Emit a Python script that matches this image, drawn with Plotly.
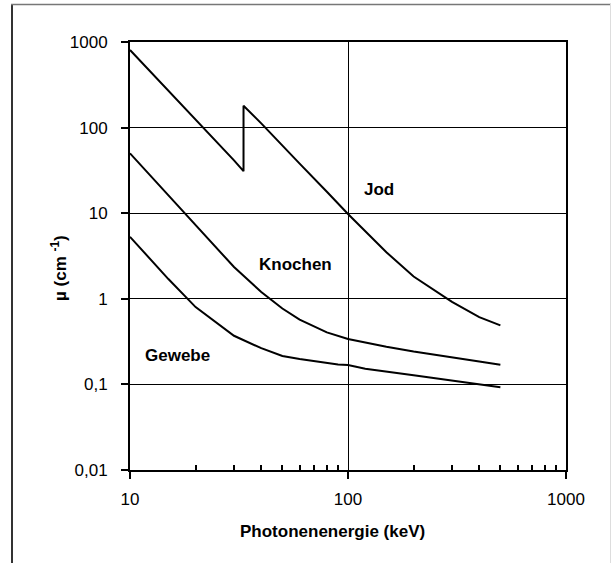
import plotly.graph_objects as go

# ---- data ----
E_jod = [10, 15, 20, 30, 33.17, 33.17, 40, 50, 60, 80, 100, 150, 200, 300, 400, 500]
mu_jod = [805, 270, 127, 41.5, 31, 180, 112, 61, 38, 17.8, 9.8, 3.5, 1.82, 0.92, 0.61, 0.49]

E_knochen = [10, 15, 20, 30, 40, 50, 60, 80, 100, 150, 200, 300, 400, 500]
mu_knochen = [50, 16.2, 7.2, 2.35, 1.2, 0.77, 0.57, 0.405, 0.34, 0.275, 0.242, 0.205, 0.185, 0.17]

E_gewebe = [10, 15, 20, 30, 40, 50, 60, 80, 90, 100, 120, 200, 300, 400, 500]
mu_gewebe = [5.3, 1.7, 0.8, 0.37, 0.265, 0.215, 0.198, 0.177, 0.171, 0.168, 0.152, 0.128, 0.111, 0.101, 0.0925]

y_tickvals = [0.01, 0.1, 1, 10, 100, 1000]
y_ticktext = ["0,01", "0,1", "1", "10", "100", "1000"]
x_tickvals = [10, 100, 1000]
x_ticktext = ["10", "100", "1000"]
x_minor = [20, 30, 40, 50, 60, 70, 80, 90, 200, 300, 400, 500, 600, 700, 800, 900]

series = [("Jod", E_jod, mu_jod), ("Knochen", E_knochen, mu_knochen), ("Gewebe", E_gewebe, mu_gewebe)]

FONT = "Liberation Sans, Arial, Helvetica, sans-serif"

fig = go.Figure()
for name, xs, ys in series:
    fig.add_trace(go.Scatter(x=xs, y=ys, mode="lines", name=name,
                             line=dict(color="black", width=2), showlegend=False))

L, T = 130, 42
W, H = 612, 563
pw, ph = 436, 428
R = W - L - pw
B = H - T - ph

def px(xp):  # page x -> paper
    return (xp - L) / pw

def py(yp):  # page y -> paper
    return (T + ph - yp) / ph

fig.update_layout(
    width=W, height=H,
    margin=dict(l=L, r=R, t=T, b=B, pad=0),
    paper_bgcolor="white", plot_bgcolor="white",
    font=dict(family=FONT, size=17, color="black"),
    xaxis=dict(type="log", range=[1, 3], tickvals=x_tickvals, ticktext=x_ticktext,
               ticks="outside", ticklen=7, tickwidth=2, tickcolor="black",
               showline=True, linewidth=2, linecolor="black", mirror=True,
               showgrid=True, gridcolor="black", gridwidth=1, zeroline=False,
               ticklabelstandoff=6,
               minor=dict(tickvals=x_minor, ticks="inside", ticklen=5, tickwidth=1.5,
                          tickcolor="black", showgrid=False)),
    yaxis=dict(type="log", range=[-2, 3], tickvals=y_tickvals, ticktext=y_ticktext,
               ticks="outside", ticklen=7, tickwidth=2, tickcolor="black",
               showline=True, linewidth=2, linecolor="black", mirror=True,
               showgrid=True, gridcolor="black", gridwidth=1, zeroline=False,
               ticklabelstandoff=10),
    xaxis2=dict(type="log", range=[1, 3], overlaying="x", anchor="y", side="bottom",
                tickvals=[100], ticks="inside", ticklen=7, tickwidth=2, tickcolor="black",
                showticklabels=False, showgrid=False, showline=False, zeroline=False),
    yaxis2=dict(type="log", range=[-2, 3], overlaying="y", anchor="x", side="left",
                tickvals=y_tickvals, ticks="inside", ticklen=6, tickwidth=2, tickcolor="black",
                showticklabels=False, showgrid=False, showline=False, zeroline=False),
)

annots = [
    dict(text="<b>Jod</b>", x=px(379), y=py(189)),
    dict(text="<b>Knochen</b>", x=px(295), y=py(264)),
    dict(text="<b>Gewebe</b>", x=px(177), y=py(355)),
    dict(text="<b>Photonenenergie (keV)</b>", x=px(332), y=py(531)),
    dict(text="<b>µ (cm <sup>-1</sup>)</b>", x=px(59), y=py(268), textangle=-90),
]
for a in annots:
    fig.add_annotation(xref="paper", yref="paper", showarrow=False,
                       xanchor="center", yanchor="middle",
                       font=dict(family=FONT, size=17, color="black"), **a)

# outer frame
fig.add_shape(type="line", xref="paper", yref="paper", x0=px(12), x1=px(12), y0=py(4), y1=py(580),
              line=dict(color="#333333", width=2))
fig.add_shape(type="line", xref="paper", yref="paper", x0=px(11), x1=px(611), y0=py(4.5), y1=py(4.5),
              line=dict(color="#777777", width=1.5))
fig.add_shape(type="line", xref="paper", yref="paper", x0=px(610.5), x1=px(610.5), y0=py(4), y1=py(580),
              line=dict(color="#dddddd", width=1))

fig.write_html("out.html", config={"displayModeBar": False},
               post_script="document.body.style.margin='0px';")
